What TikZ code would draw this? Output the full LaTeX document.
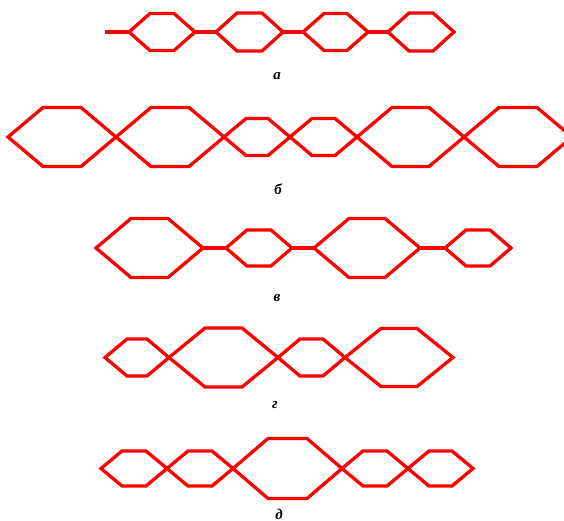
\documentclass[tikz,border=0pt]{standalone}
\usepackage{fontspec}
\setmainfont{Liberation Serif}
\usetikzlibrary{calc}

% hexagonal cell: name, left x, right x, middle y, slant, half height
\newcommand{\hexcell}[6]{%
  \coordinate (#1-l) at (#2,#4);
  \coordinate (#1-r) at (#3,#4);
  \draw (#1-l) -- ($(#1-l)+(#5,-#6)$) -- ($(#1-r)+(-#5,-#6)$) -- (#1-r)
    -- ($(#1-r)+(-#5,#6)$) -- ($(#1-l)+(#5,#6)$) -- cycle;
}

\begin{document}
\begin{tikzpicture}[x=1pt, y=-1pt, line width=3.3pt, red,
  lbl/.style={black, anchor=base, font=\bfseries\itshape\fontsize{15}{15}\selectfont}]
\useasboundingbox (0,0) rectangle (564,521);

% a
\coordinate (a0) at (105,32);
\hexcell{a1}{129}{195}{32}{21}{18.5}
\hexcell{a2}{216}{283}{32}{21}{19}
\hexcell{a3}{303}{368}{32}{21}{18.5}
\hexcell{a4}{388}{454}{32}{21}{19}
\draw (a0) -- (a1-l);
\draw (a1-r) -- (a2-l);
\draw (a2-r) -- (a3-l);
\draw (a3-r) -- (a4-l);
\node[lbl] (la) at (277,80) {а};

% b
\hexcell{b1}{8}{116}{137}{35}{29.5}
\hexcell{b2}{116}{224}{137}{35}{29.5}
\hexcell{b3}{224}{290}{137}{22}{18.5}
\hexcell{b4}{290}{357}{137}{22}{18.5}
\hexcell{b5}{357}{464}{137}{35}{29.5}
\hexcell{b6}{464}{572}{137}{35}{29.5}
\node[lbl] (lb) at (278,195) {б};

% c
\hexcell{c1}{96}{203}{248}{35}{29.5}
\hexcell{c2}{226}{292}{248}{21}{18}
\hexcell{c3}{314}{420}{248}{35}{29.5}
\hexcell{c4}{445}{511}{248}{21}{18}
\draw (c1-r) -- (c2-l);
\draw (c2-r) -- (c3-l);
\draw (c3-r) -- (c4-l);
\node[lbl] (lc) at (277,301) {в};

% d
\hexcell{d1}{105}{169}{357.5}{22}{18.5}
\hexcell{d2}{169}{278}{357.5}{36}{29.5}
\hexcell{d3}{278}{345}{357.5}{22}{18.5}
\hexcell{d4}{345}{453}{357.5}{36}{29}
\node[lbl] (ld) at (275,408) {г};

% e
\hexcell{e1}{101}{167}{468.5}{21}{17.5}
\hexcell{e2}{167}{233}{468.5}{21}{17.5}
\hexcell{e3}{233}{342}{468.5}{35}{30}
\hexcell{e4}{342}{408}{468.5}{21}{17.5}
\hexcell{e5}{408}{473}{468.5}{21}{17.5}
\node[lbl] (le) at (279,519) {д};
\end{tikzpicture}
\end{document}
